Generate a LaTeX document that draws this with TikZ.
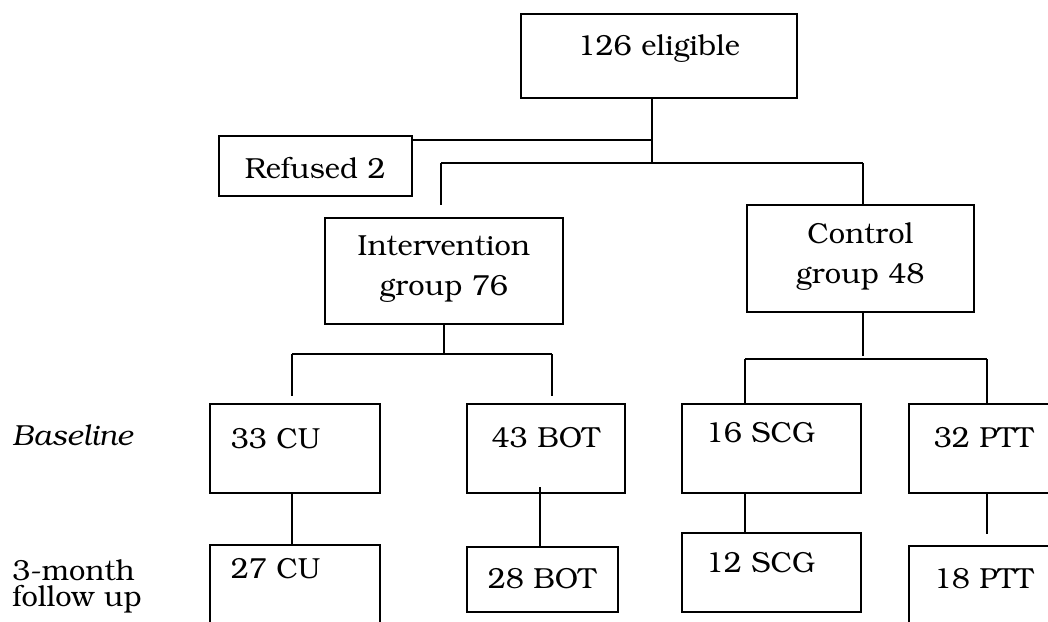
\documentclass[tikz,border=0pt]{standalone}
\usepackage[T1]{fontenc}
\usepackage{bookman}
\tikzset{
  flowbox/.style={draw, line width=0.8pt, inner sep=0pt, anchor=north west},
  boxdim/.style n args={4}{text width=#1, inner xsep=#2, text height=#3, text depth=#4},
  link/.style={line width=0.8pt},
}
\begin{document}
\begin{tikzpicture}[x=0.5pt, y=-0.5pt, font=\fontsize{14.5}{20}\selectfont]
    \useasboundingbox (0,0) rectangle (1048,621);
    \clip (0,0) rectangle (1048,621);

    % top of the chart
    \node[flowbox, boxdim={138pt}{0pt}{21pt}{21pt}, align=center] (elig) at (520,13) {126 eligible};
    \node[flowbox, boxdim={96.5pt}{0pt}{21.5pt}{8.5pt}, align=center] (refused) at (218,135) {Refused 2};
    \node[flowbox, boxdim={119pt}{0pt}{19pt}{34pt}, align=center] (interv) at (324,217) {Intervention\\group 76};
    \node[flowbox, boxdim={113.5pt}{0pt}{19.5pt}{34pt}, align=center] (control) at (746,204) {Control\\group 48};

    % baseline row
    \node[flowbox, boxdim={64pt}{10.5pt}{22.5pt}{22pt}, align=left] (cu1) at (209,403) {33 CU};
    \node[flowbox, boxdim={79pt}{0pt}{22pt}{22.5pt}, align=center] (bot1) at (466,403) {43 BOT};
    \node[flowbox, boxdim={65.5pt}{12pt}{19.5pt}{25pt}, align=left] (scg1) at (681,403) {16 SCG};
    \node[flowbox, boxdim={75pt}{12.5pt}{22pt}{22.5pt}, align=left] (ptt1) at (908,403) {32 PTT};

    % follow up row
    \node[flowbox, boxdim={64pt}{10.5pt}{17pt}{40pt}, align=left] (cu2) at (209,544) {27 CU};
    \node[flowbox, boxdim={54.5pt}{10.5pt}{21pt}{11.5pt}, align=left] (bot2) at (466,546) {28 BOT};
    \node[flowbox, boxdim={65.5pt}{12pt}{20pt}{19.5pt}, align=left] (scg2) at (681,532) {12 SCG};
    \node[flowbox, boxdim={75pt}{12.5pt}{21.5pt}{40pt}, align=left] (ptt2) at (908,545) {18 PTT};

    % row labels
    \node[inner sep=0pt, anchor=base west, font=\fontsize{14.5}{20}\selectfont\itshape] (lbase) at (12,445) {Baseline};
    \node[inner sep=0pt, anchor=base west, text width=70pt, align=left, font=\fontsize{14.5}{13}\selectfont] (lfollow) at (12,580) {3-month\\follow up};

    % connectors
    \coordinate (trunk) at (652,163);
    \coordinate (refjoin) at (652,140);
    \coordinate (bar1l) at (441,163);
    \coordinate (bar1r) at (863,163);
    \coordinate (bar2l) at (292,354);
    \coordinate (bar2r) at (552,354);
    \coordinate (bar3l) at (745,359);
    \coordinate (bar3r) at (987,359);
    \coordinate (botjoin) at (540,487);

    \draw[link] (elig.south -| trunk) -- (trunk);
    \draw[link] (refjoin) -- (refjoin -| refused.east);
    \draw[link] (bar1l) -- (bar1r);
    \draw[link] (bar1l) -- ++(0,42);
    \draw[link] (bar1r) -- (bar1r |- control.north);

    \draw[link] (interv.south) -- (interv.south |- bar2l);
    \draw[link] (bar2l) -- (bar2r);
    \draw[link] (bar2l) -- ++(0,42);
    \draw[link] (bar2r) -- ++(0,42);

    \draw[link] (control.south -| bar1r) -- ++(0,43);
    \draw[link] (bar3l) -- (bar3r);
    \draw[link] (bar3l) -- (bar3l |- scg1.north);
    \draw[link] (bar3r) -- (bar3r |- ptt1.north);

    \draw[link] (cu1.south -| bar2l) -- (cu2.north -| bar2l);
    \draw[link] (botjoin) -- (botjoin |- bot2.north);
    \draw[link] (scg1.south -| bar3l) -- (scg2.north -| bar3l);
    \draw[link] (ptt1.south -| bar3r) -- ++(0,40);

\end{tikzpicture}
\end{document}
